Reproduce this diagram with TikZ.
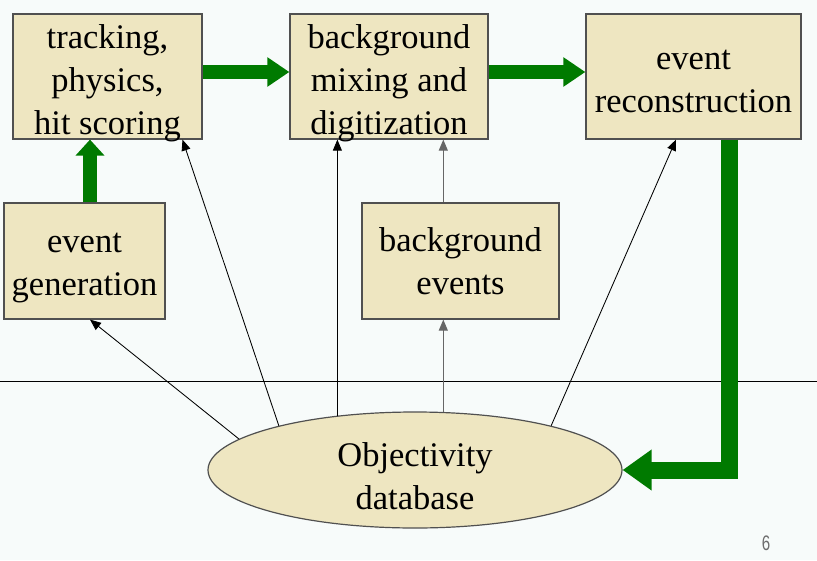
\documentclass[tikz,border=0pt]{standalone}
\usepackage{fontspec}
\usepackage{graphicx}
\setmainfont{Liberation Serif}
\newfontfamily\pagenumfont{Liberation Sans}
\usetikzlibrary{arrows.meta,shapes.geometric,calc}
\definecolor{bgcol}{HTML}{F7FBFA}
\definecolor{boxfill}{HTML}{EEE6C1}
\definecolor{boxline}{HTML}{505050}
\definecolor{flowgreen}{HTML}{007A00}
\definecolor{greyline}{HTML}{666666}
\newcommand{\topgap}[1]{\rule{0pt}{#1}}
\newcommand{\nodepth}[1]{\raisebox{0pt}[\height][0pt]{#1}}
\tikzset{
  procbox/.style={draw=boxline, fill=boxfill, line width=1.2pt, align=center, inner sep=0pt,
    font=\fontsize{34.5}{43}\selectfont},
  dbshape/.style={ellipse, draw=boxline, fill=boxfill, line width=1.2pt, inner sep=0pt,
    minimum width=414pt, minimum height=116pt, align=center, font=\fontsize{34.5}{43}\selectfont},
  greenflow/.style={draw=flowgreen, line width=14pt, line join=miter,
    -{Triangle[length=22pt,width=28pt]}},
  thinflow/.style={draw=black, line width=0.85pt, -{Triangle[length=11pt,width=9pt]}},
  greyflow/.style={draw=greyline, line width=0.9pt, -{Triangle[length=11pt,width=9pt]}},
  sepline/.style={draw=black, line width=1pt},
  pagenum/.style={text=gray!85!black, font=\pagenumfont\fontsize{21}{24}\selectfont, inner sep=0pt}
}
\begin{document}
\begin{tikzpicture}[x=1pt,y=-1pt]
\fill[bgcol] (0,0) rectangle (817,560);
\useasboundingbox (0,0) rectangle (817,560);
\coordinate (lineL) at (0,381);
\coordinate (lineR) at (817,381);
\draw[sepline] (lineL) -- (lineR);

\node[procbox, minimum width=189pt, minimum height=125pt] (track) at (107.5,76.5) {\topgap{30pt}tracking,\\physics,\\\nodepth{hit scoring}};
\node[procbox, minimum width=198pt, minimum height=125pt] (mix) at (389,76.5) {\topgap{30pt}background\\mixing and\\\nodepth{digitization}};
\node[procbox, minimum width=215pt, minimum height=125pt] (recon) at (693.5,76.5) {\topgap{29.5pt}event\\reconstruction};
\node[procbox, minimum width=161pt, minimum height=116pt] (gen) at (84.5,261) {\topgap{33pt}event\\generation};
\node[procbox, minimum width=197pt, minimum height=116pt] (bkg) at (460.5,261) {background\\events};
\node[dbshape] (db) at (415,470) {\topgap{36pt}Objectivity\\database};
\node[pagenum] (pg) at (766,543) {\scalebox{0.72}[1]{6}};

\coordinate (upx) at (90,0);
\coordinate (downx) at (729,0);

% thick green flow
\draw[greenflow] ($(track.east)+(0,-4.5)$) -- ($(mix.west)+(0,-4.5)$);
\draw[greenflow] ($(mix.east)+(0,-4.5)$) -- ($(recon.west)+(0,-4.5)$);
\draw[greenflow, -{Triangle[length=16pt,width=28pt]}] (gen.north -| upx) -- (track.south -| upx);
\draw[greenflow, line width=17pt, -{Triangle[length=29pt,width=39pt]}] (recon.south -| downx) |- (db.east);

% thin arrows from the database
\draw[thinflow] (db.170) -- ($(gen.south)+(5.5,0)$);
\draw[thinflow] (db.162) -- ($(track.south)+(75,0)$);
\draw[thinflow] (db.145.8) -- (db.145.8 |- mix.south);
\draw[greyflow] (db.64) -- (db.64 |- bkg.south);
\draw[greyflow] (db.64 |- bkg.north) -- (db.64 |- mix.south);
\draw[thinflow] (db.18.5) -- ($(recon.south)+(-17.5,0)$);
\end{tikzpicture}
\end{document}
